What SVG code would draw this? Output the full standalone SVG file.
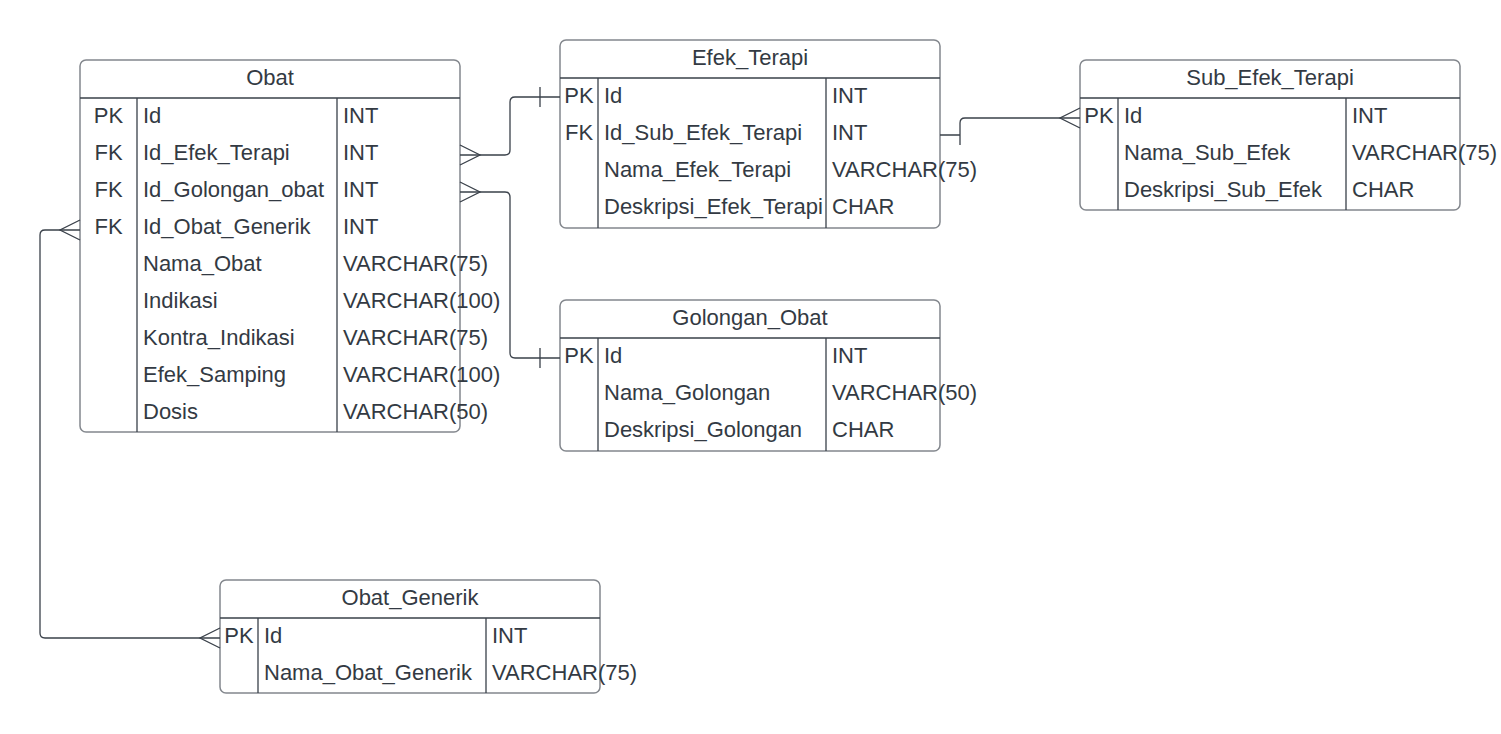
<svg xmlns="http://www.w3.org/2000/svg" width="1501" height="734" viewBox="0 0 1501 734">
<style>
.box{fill:#ffffff;stroke:#83878d;stroke-width:1.5}
.div{stroke:#3a414a;stroke-width:1.3;fill:none}
.t{font-family:"Liberation Sans",Arial,sans-serif;font-size:22px;fill:#333a43}
.c{text-anchor:middle}
.con{stroke:#3a414a;stroke-width:1.3;fill:none}
</style>
<rect width="1501" height="734" fill="#ffffff"/>

<g id="obat">
<rect class="box" x="80" y="60" width="380" height="372" rx="6"/>
<path class="div" d="M80,98H460M137,98V432M337,98V432"/>
<text class="t c" x="270" y="85">Obat</text>
<text class="t c" x="108.5" y="123">PK</text>
<text class="t c" x="108.5" y="160">FK</text>
<text class="t c" x="108.5" y="197">FK</text>
<text class="t c" x="108.5" y="234">FK</text>
<text class="t" x="143" y="123">Id</text>
<text class="t" x="143" y="160">Id_Efek_Terapi</text>
<text class="t" x="143" y="197">Id_Golongan_obat</text>
<text class="t" x="143" y="234">Id_Obat_Generik</text>
<text class="t" x="143" y="271">Nama_Obat</text>
<text class="t" x="143" y="308">Indikasi</text>
<text class="t" x="143" y="345">Kontra_Indikasi</text>
<text class="t" x="143" y="382">Efek_Samping</text>
<text class="t" x="143" y="419">Dosis</text>
<text class="t" x="343" y="123">INT</text>
<text class="t" x="343" y="160">INT</text>
<text class="t" x="343" y="197">INT</text>
<text class="t" x="343" y="234">INT</text>
<text class="t" x="343" y="271">VARCHAR(75)</text>
<text class="t" x="343" y="308">VARCHAR(100)</text>
<text class="t" x="343" y="345">VARCHAR(75)</text>
<text class="t" x="343" y="382">VARCHAR(100)</text>
<text class="t" x="343" y="419">VARCHAR(50)</text>
</g>

<g id="efek_terapi">
<rect class="box" x="560" y="40" width="380" height="188" rx="6"/>
<path class="div" d="M560,78H940M598,78V228M826,78V228"/>
<text class="t c" x="750" y="65">Efek_Terapi</text>
<text class="t c" x="579" y="103">PK</text>
<text class="t c" x="579" y="140">FK</text>
<text class="t" x="604" y="103">Id</text>
<text class="t" x="604" y="140">Id_Sub_Efek_Terapi</text>
<text class="t" x="604" y="177">Nama_Efek_Terapi</text>
<text class="t" x="604" y="214">Deskripsi_Efek_Terapi</text>
<text class="t" x="832" y="103">INT</text>
<text class="t" x="832" y="140">INT</text>
<text class="t" x="832" y="177">VARCHAR(75)</text>
<text class="t" x="832" y="214">CHAR</text>
</g>

<g id="sub_efek_terapi">
<rect class="box" x="1080" y="60" width="380" height="150" rx="6"/>
<path class="div" d="M1080,98H1460M1118,98V210M1346,98V210"/>
<text class="t c" x="1270" y="85">Sub_Efek_Terapi</text>
<text class="t c" x="1099" y="123">PK</text>
<text class="t" x="1124" y="123">Id</text>
<text class="t" x="1124" y="160">Nama_Sub_Efek</text>
<text class="t" x="1124" y="197">Deskripsi_Sub_Efek</text>
<text class="t" x="1352" y="123">INT</text>
<text class="t" x="1352" y="160">VARCHAR(75)</text>
<text class="t" x="1352" y="197">CHAR</text>
</g>

<g id="golongan_obat">
<rect class="box" x="560" y="300" width="380" height="151" rx="6"/>
<path class="div" d="M560,338H940M598,338V451M826,338V451"/>
<text class="t c" x="750" y="325">Golongan_Obat</text>
<text class="t c" x="579" y="363">PK</text>
<text class="t" x="604" y="363">Id</text>
<text class="t" x="604" y="400">Nama_Golongan</text>
<text class="t" x="604" y="437">Deskripsi_Golongan</text>
<text class="t" x="832" y="363">INT</text>
<text class="t" x="832" y="400">VARCHAR(50)</text>
<text class="t" x="832" y="437">CHAR</text>
</g>

<g id="obat_generik">
<rect class="box" x="220" y="580" width="380" height="113" rx="6"/>
<path class="div" d="M220,618H600M258,618V693M486,618V693"/>
<text class="t c" x="410" y="605">Obat_Generik</text>
<text class="t c" x="239" y="643">PK</text>
<text class="t" x="264" y="643">Id</text>
<text class="t" x="264" y="680">Nama_Obat_Generik</text>
<text class="t" x="492" y="643">INT</text>
<text class="t" x="492" y="680">VARCHAR(75)</text>
</g>

<g id="connectors">
<path class="con" d="M460,155H505Q510,155 510,150V102Q510,97 515,97H560"/>
<path class="con" d="M460,145L480,155L460,165M540,87V107"/>
<path class="con" d="M460,192H505Q510,192 510,197V353Q510,358 515,358H560"/>
<path class="con" d="M460,182L480,192L460,202M540,348V368"/>
<path class="con" d="M940,135H960M960,145V123Q960,118 965,118H1080"/>
<path class="con" d="M1080,108L1060,118L1080,128"/>
<path class="con" d="M80,230H45Q40,230 40,235V633Q40,638 45,638H220"/>
<path class="con" d="M80,220L60,230L80,240M220,628L200,638L220,648"/>
</g>
</svg>
